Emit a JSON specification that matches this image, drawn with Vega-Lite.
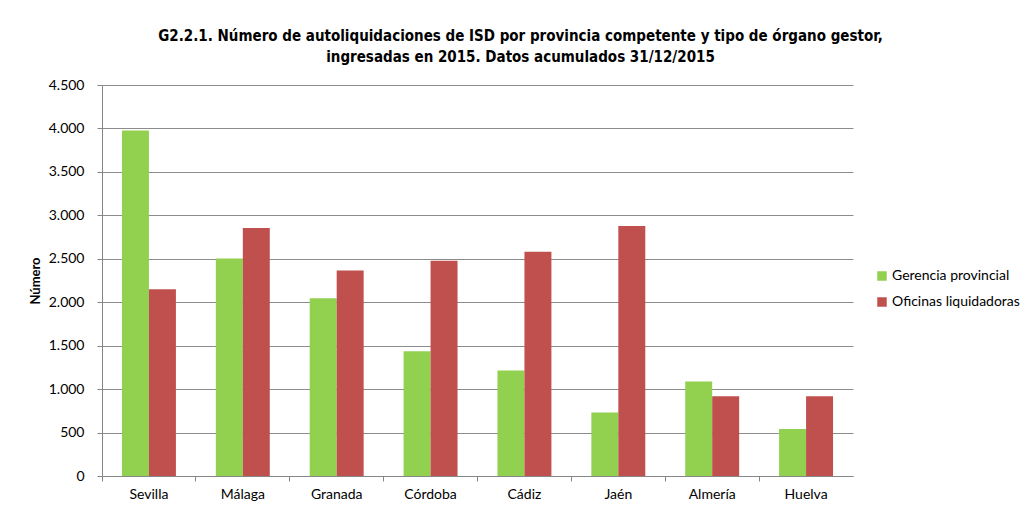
{
  "$schema": "https://vega.github.io/schema/vega-lite/v6.json",
  "autosize": "none",
  "width": 751,
  "height": 391,
  "padding": {"left": 102, "top": 85, "right": 172, "bottom": 33},
  "background": "white",
  "config": {
    "locale": {"number": {"decimal": ",", "thousands": ".", "grouping": [3], "currency": ["", " €"]}},
    "view": {"stroke": null},
    "font": "Lato"
  },
  "title": {
    "text": ["G2.2.1. Número de autoliquidaciones de ISD por provincia competente y tipo de órgano gestor,", "ingresadas en 2015. Datos acumulados 31/12/2015"],
    "font": "DejaVu Sans Condensed, Roboto",
    "fontSize": 15,
    "fontWeight": "bold",
    "color": "#000000",
    "anchor": "middle",
    "dx": 43,
    "offset": 13,
    "lineHeight": 21
  },
  "data": {
    "values": [
      {"provincia": "Sevilla", "tipo": "Gerencia provincial", "valor": 3977},
      {"provincia": "Sevilla", "tipo": "Oficinas liquidadoras", "valor": 2150},
      {"provincia": "Málaga", "tipo": "Gerencia provincial", "valor": 2504},
      {"provincia": "Málaga", "tipo": "Oficinas liquidadoras", "valor": 2854},
      {"provincia": "Granada", "tipo": "Gerencia provincial", "valor": 2046},
      {"provincia": "Granada", "tipo": "Oficinas liquidadoras", "valor": 2365},
      {"provincia": "Córdoba", "tipo": "Gerencia provincial", "valor": 1435},
      {"provincia": "Córdoba", "tipo": "Oficinas liquidadoras", "valor": 2477},
      {"provincia": "Cádiz", "tipo": "Gerencia provincial", "valor": 1215},
      {"provincia": "Cádiz", "tipo": "Oficinas liquidadoras", "valor": 2581},
      {"provincia": "Jaén", "tipo": "Gerencia provincial", "valor": 731},
      {"provincia": "Jaén", "tipo": "Oficinas liquidadoras", "valor": 2877},
      {"provincia": "Almería", "tipo": "Gerencia provincial", "valor": 1088},
      {"provincia": "Almería", "tipo": "Oficinas liquidadoras", "valor": 919},
      {"provincia": "Huelva", "tipo": "Gerencia provincial", "valor": 542},
      {"provincia": "Huelva", "tipo": "Oficinas liquidadoras", "valor": 919}
    ]
  },
  "mark": {"type": "bar"},
  "encoding": {
    "x": {
      "field": "provincia",
      "type": "nominal",
      "sort": ["Sevilla", "Málaga", "Granada", "Córdoba", "Cádiz", "Jaén", "Almería", "Huelva"],
      "scale": {"paddingInner": 0, "paddingOuter": 0},
      "axis": {
        "title": null,
        "labelAngle": 0,
        "labelFont": "Lato",
        "labelFontSize": 14,
        "labelColor": "#000000",
        "labelPadding": 6,
        "domainColor": "#868686",
        "tickColor": "#868686",
        "tickSize": 5,
        "bandPosition": 0,
        "grid": false
      }
    },
    "xOffset": {"field": "tipo", "type": "nominal", "sort": ["Gerencia provincial", "Oficinas liquidadoras"], "scale": {"paddingInner": 0, "paddingOuter": 0.74}},
    "y": {
      "field": "valor",
      "type": "quantitative",
      "scale": {"domain": [0, 4500], "nice": false},
      "axis": {
        "title": "Número",
        "titleFont": "Lato",
        "titleFontSize": 13,
        "titleFontWeight": "bold",
        "titleColor": "#000000",
        "titlePadding": 6,
        "values": [0, 500, 1000, 1500, 2000, 2500, 3000, 3500, 4000, 4500],
        "format": ",d",
        "labelFont": "Lato",
        "labelFontSize": 14,
        "labelColor": "#000000",
        "labelPadding": 13,
        "tickSize": 5,
        "tickColor": "#868686",
        "domain": true,
        "domainColor": "#868686",
        "grid": true,
        "gridColor": "#8c8c8c"
      }
    },
    "color": {
      "field": "tipo",
      "type": "nominal",
      "scale": {"domain": ["Gerencia provincial", "Oficinas liquidadoras"], "range": ["#92D050", "#C0504D"]},
      "legend": {
        "title": null,
        "orient": "none",
        "legendX": 773,
        "legendY": 184,
        "symbolType": "square",
        "symbolSize": 90,
        "symbolStrokeWidth": 0,
        "labelFont": "Lato",
        "labelFontSize": 14,
        "labelColor": "#000000",
        "rowPadding": 12,
        "labelOffset": 3
      }
    }
  }
}
